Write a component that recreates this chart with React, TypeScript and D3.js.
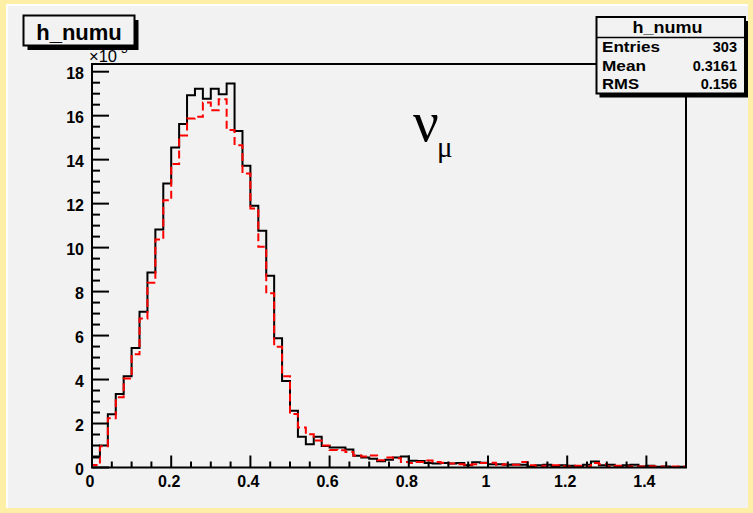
import React from 'react';
import * as d3 from 'd3';

const W = 753;
const H = 513;

const histTitle = 'h_numu';
const binWidth = 0.02;
const xMax = 1.5;
const yMax = 18.35;

// black solid histogram (units of 1e-3)
const blackCounts = [
  0.45, 1.0, 2.42, 3.34, 4.15, 5.43, 7.08, 8.87, 10.82, 12.92,
  14.55, 15.62, 16.93, 17.23, 16.77, 17.23, 16.98, 17.46, 15.3, 13.72,
  11.9, 10.77, 8.72, 5.88, 3.93, 2.58, 1.4, 1.06, 1.4, 0.98,
  0.91, 0.91, 0.82, 0.53, 0.46, 0.4, 0.28, 0.35, 0.45, 0.5,
  0.31, 0.3, 0.2, 0.18, 0.2, 0.18, 0.2, 0.1, 0.24, 0.22,
  0.15, 0.15, 0.12, 0.14, 0.13, 0.05, 0.1, 0.12, 0.05, 0.1,
  0.08, 0.05, 0.12, 0.27, 0.1, 0.12, 0.05, 0.1, 0.12, 0.05,
  0.08, 0.03, 0.05, 0.02, 0.03,
];

// red dashed histogram
const redCounts = [
  0.11, 0.97, 2.24, 3.19, 4.05, 5.15, 6.78, 8.4, 10.37, 12.15,
  13.8, 15.1, 15.87, 15.95, 16.6, 16.25, 16.75, 15.35, 14.66, 13.37,
  11.78, 10.04, 7.92, 5.49, 4.15, 2.43, 1.82, 1.51, 1.23, 1.0,
  0.8, 0.78, 0.7, 0.55, 0.5, 0.55, 0.33, 0.45, 0.42, 0.25,
  0.2, 0.25, 0.32, 0.25, 0.22, 0.18, 0.15, 0.12, 0.15, 0.2,
  0.22, 0.12, 0.15, 0.12, 0.25, 0.1, 0.05, 0.08, 0.1, 0.06,
  0.05, 0.08, 0.05, 0.2, 0.15, 0.05, 0.08, 0.05, 0.04, 0.05,
  0.06, 0.05, 0.03, 0.05, 0.04,
];

const yTicks = [0, 2, 4, 6, 8, 10, 12, 14, 16, 18];
const yTickLabels = ['0', '2', '4', '6', '8', '10', '12', '14', '16', '18'];
const xTicks = [0, 0.2, 0.4, 0.6, 0.8, 1, 1.2, 1.4];
const xTickLabels = ['0', '0.2', '0.4', '0.6', '0.8', '1', '1.2', '1.4'];

const statsLabels = ['Entries', 'Mean', 'RMS'];
const statsLabelWidths = [58, 44, 37];
const statsValues = ['303', '0.3161', '0.156'];

const SANS = "'Liberation Sans', Arial, Helvetica, sans-serif";
const SERIF = "'Liberation Serif', 'Times New Roman', serif";

export default function App() {
  const x = d3.scaleLinear().domain([0, xMax]).range([92, 686]);
  const y = d3.scaleLinear().domain([0, yMax]).range([467.5, 64]);

  const stepPath = (vals: number[]) => {
    const pts: [number, number][] = [[0, 0]];
    vals.forEach((v, i) => {
      pts.push([i * binWidth, v]);
      pts.push([(i + 1) * binWidth, v]);
    });
    pts.push([vals.length * binWidth, 0]);
    return d3
      .line<[number, number]>()
      .x((d) => x(d[0]))
      .y((d) => y(d[1]))(pts) as string;
  };

  const yMinor = d3.range(0, yMax, 0.5);
  const xMinor = d3.range(0, xMax + 0.0001, 0.05);

  const x0 = x(0);
  const yb = y(0);

  return (
    <svg
      width={W}
      height={H}
      style={{ position: 'absolute', left: 0, top: 0, display: 'block' }}
    >
      {/* canvas */}
      <rect x={0} y={0} width={W} height={H} fill="#fdf0a6" />
      <rect x={6} y={4} width={742} height={504} fill="#f2f2f2" />
      <line x1={6} y1={5} x2={748} y2={5} stroke="#ffffff" strokeWidth={2} />
      <line x1={7} y1={4} x2={7} y2={508} stroke="#ffffff" strokeWidth={2} />

      {/* histograms */}
      <path d={stepPath(blackCounts)} fill="none" stroke="#000" strokeWidth={2} />
      <path
        d={stepPath(redCounts)}
        fill="none"
        stroke="#ff0000"
        strokeWidth={2}
        strokeDasharray="8,4"
      />

      {/* frame */}
      <rect
        x={x0}
        y={64}
        width={x(xMax) - x0}
        height={yb - 64}
        fill="none"
        stroke="#000"
        strokeWidth={2}
      />

      {/* y ticks */}
      {yMinor.map((v, i) => {
        const major = Math.abs(v / 2 - Math.round(v / 2)) < 1e-6;
        return (
          <line
            key={'ym' + i}
            x1={x0}
            x2={x0 + (major ? 17 : 8)}
            y1={y(v)}
            y2={y(v)}
            stroke="#000"
            strokeWidth={2}
          />
        );
      })}
      {yTicks.map((v, i) => (
        <text
          key={'yl' + i}
          x={84}
          y={y(v) + 7}
          textAnchor="end"
          fontFamily={SANS}
          fontWeight="bold"
          fontSize={16}
        >
          {yTickLabels[i]}
        </text>
      ))}

      {/* x ticks */}
      {xMinor.map((v, i) => {
        const major = Math.abs(v / 0.2 - Math.round(v / 0.2)) < 1e-6;
        return (
          <line
            key={'xm' + i}
            x1={x(v)}
            x2={x(v)}
            y1={yb}
            y2={yb - (major ? 12 : 6)}
            stroke="#000"
            strokeWidth={2}
          />
        );
      })}
      {xTicks.map((v, i) => (
        <text
          key={'xl' + i}
          x={x(v) - 2}
          y={487}
          textAnchor="middle"
          fontFamily={SANS}
          fontWeight="bold"
          fontSize={16}
        >
          {xTickLabels[i]}
        </text>
      ))}

      {/* exponent */}
      <text x={89} y={62} fontFamily={SANS} fontSize={16.5}>
        ×10
        <tspan dy={-9} fontSize={12}>
          -3
        </tspan>
      </text>

      {/* nu_mu label */}
      <text x={413} y={141} fontFamily={SERIF} fontSize={57}>
        ν
      </text>
      <text x={437} y={157} fontFamily={SERIF} fontSize={29}>
        μ
      </text>

      {/* title box */}
      <rect x={27.5} y={20} width={111} height={30} fill="#000" />
      <rect x={23.5} y={15.5} width={111} height={30} fill="#f2f2f2" stroke="#000" strokeWidth={2} />
      <text
        x={79}
        y={39.5}
        textAnchor="middle"
        fontFamily={SANS}
        fontWeight="bold"
        fontSize={22}
      >
        {histTitle}
      </text>

      {/* stats box */}
      <rect x={599.5} y={21} width={148.5} height={76.5} fill="#000" />
      <rect x={596.5} y={17} width={148.5} height={76.5} fill="#f2f2f2" stroke="#000" strokeWidth={2} />
      <line x1={596.5} x2={745} y1={37.5} y2={37.5} stroke="#000" strokeWidth={1.5} />
      <text
        x={667.5}
        y={33}
        textAnchor="middle"
        fontFamily={SANS}
        fontWeight="bold"
        fontSize={16}
        textLength={70}
        lengthAdjust="spacingAndGlyphs"
      >
        {histTitle}
      </text>
      {statsLabels.map((l, i) => (
        <g key={'st' + i}>
          <text
            x={602}
            y={52 + i * 18.5}
            fontFamily={SANS}
            fontWeight="bold"
            fontSize={15}
            textLength={statsLabelWidths[i]}
            lengthAdjust="spacingAndGlyphs"
          >
            {l}
          </text>
          <text
            x={737}
            y={52 + i * 18.5}
            textAnchor="end"
            fontFamily={SANS}
            fontWeight="bold"
            fontSize={14.5}
          >
            {statsValues[i]}
          </text>
        </g>
      ))}
    </svg>
  );
}
